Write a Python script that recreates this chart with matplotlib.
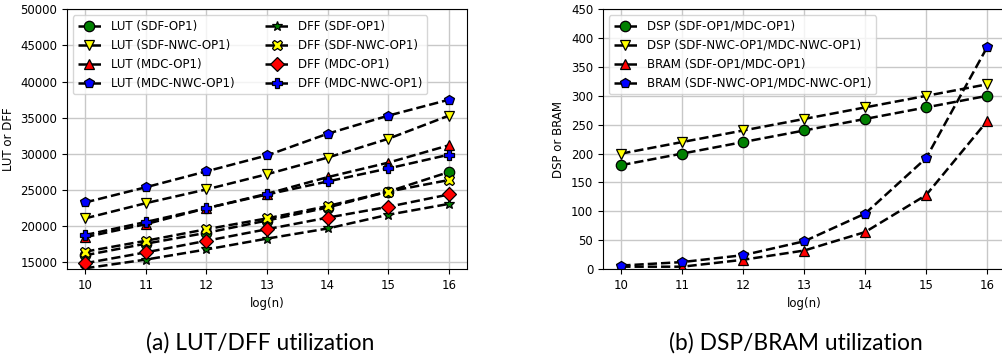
import numpy as np
import matplotlib
matplotlib.use('Agg')
from matplotlib import pyplot as plt

# ############################## DANE ############################## #
log_n = [10, 11, 12, 13, 14, 15, 16]

lut_sdf = [16000, 17600, 19100, 20800, 22600, 24800, 27500]
lut_sdf_nwc = [21100, 23200, 25100, 27200, 29500, 32100, 35300]
lut_mdc = [18500, 20300, 22500, 24500, 26800, 28800, 31200]
lut_mdc_nwc = [23300, 25400, 27600, 29800, 32800, 35300, 37500]
dff_sdf = [14200, 15400, 16800, 18300, 19700, 21600, 23100]
dff_sdf_nwc = [16500, 18000, 19600, 21100, 22800, 24800, 26400]
dff_mdc = [14900, 16400, 18000, 19600, 21200, 22700, 24400]
dff_mdc_nwc = [18800, 20600, 22500, 24400, 26200, 28000, 29900]

dsp_op1 = [180, 200, 220, 240, 260, 280, 300]
dsp_nwc = [200, 220, 240, 260, 280, 300, 320]
bram_op1 = [4, 4, 16, 32, 64, 128, 256]
bram_nwc = [6, 12, 24, 48, 96, 192, 384]

# ############################## STYL ############################## #
plt.rcParams['font.size'] = 8.5
line_kw = dict(color='black', linestyle='--', linewidth=1.8, markeredgecolor='black',
               markeredgewidth=0.9, markersize=7.5)

fig = plt.figure(figsize=(10.02, 3.58), dpi=100)

# LEWY WYKRES _________________________________________________________
ax1 = fig.add_axes([0.0669, 0.2486, 0.3992, 0.7254])
ax1.plot(log_n, lut_sdf, marker='o', markerfacecolor='green', label='LUT (SDF-OP1)', **line_kw)
ax1.plot(log_n, lut_sdf_nwc, marker='v', markerfacecolor='yellow', label='LUT (SDF-NWC-OP1)', **line_kw)
ax1.plot(log_n, lut_mdc, marker='^', markerfacecolor='red', label='LUT (MDC-OP1)', **line_kw)
ax1.plot(log_n, lut_mdc_nwc, marker='p', markerfacecolor='blue', label='LUT (MDC-NWC-OP1)', **line_kw)
ax1.plot(log_n, dff_sdf, marker='*', markerfacecolor='green', label='DFF (SDF-OP1)', **line_kw)
ax1.plot(log_n, dff_sdf_nwc, marker='X', markerfacecolor='yellow', label='DFF (SDF-NWC-OP1)', **line_kw)
ax1.plot(log_n, dff_mdc, marker='D', markerfacecolor='red', label='DFF (MDC-OP1)', **line_kw)
ax1.plot(log_n, dff_mdc_nwc, marker='P', markerfacecolor='blue', label='DFF (MDC-NWC-OP1)', **line_kw)
ax1.set_ylim(14100, 50000)
ax1.set_xlim(9.7, 16.3)
ax1.set_xticks(log_n)
ax1.set_xlabel('log(n)')
ax1.set_ylabel('LUT or DFF')
ax1.grid(True, color='#c8c8c8', linewidth=1.0)
ax1.legend(loc='upper left', ncol=2, columnspacing=2.6)

# PRAWY WYKRES ________________________________________________________
ax2 = fig.add_axes([0.6018, 0.2486, 0.4015, 0.7254])
ax2.plot(log_n, dsp_op1, marker='o', markerfacecolor='green', label='DSP (SDF-OP1/MDC-OP1)', **line_kw)
ax2.plot(log_n, dsp_nwc, marker='v', markerfacecolor='yellow', label='DSP (SDF-NWC-OP1/MDC-NWC-OP1)', **line_kw)
ax2.plot(log_n, bram_op1, marker='^', markerfacecolor='red', label='BRAM (SDF-OP1/MDC-OP1)', **line_kw)
ax2.plot(log_n, bram_nwc, marker='p', markerfacecolor='blue', label='BRAM (SDF-NWC-OP1/MDC-NWC-OP1)', **line_kw)
ax2.set_ylim(0, 450)
ax2.set_xlim(9.7, 16.3)
ax2.set_xticks(log_n)
ax2.set_xlabel('log(n)')
ax2.set_ylabel('DSP or BRAM')
ax2.grid(True, color='#c8c8c8', linewidth=1.0)
ax2.legend(loc='upper left')

# PODPISY _____________________________________________________________
fig.text(0.2595, 0.042, '(a) LUT/DFF utilization', ha='center', va='center', fontsize=16.4, family='Lato')
fig.text(0.7945, 0.042, '(b) DSP/BRAM utilization', ha='center', va='center', fontsize=16.4, family='Lato')

fig.savefig('out.png', dpi=100)
